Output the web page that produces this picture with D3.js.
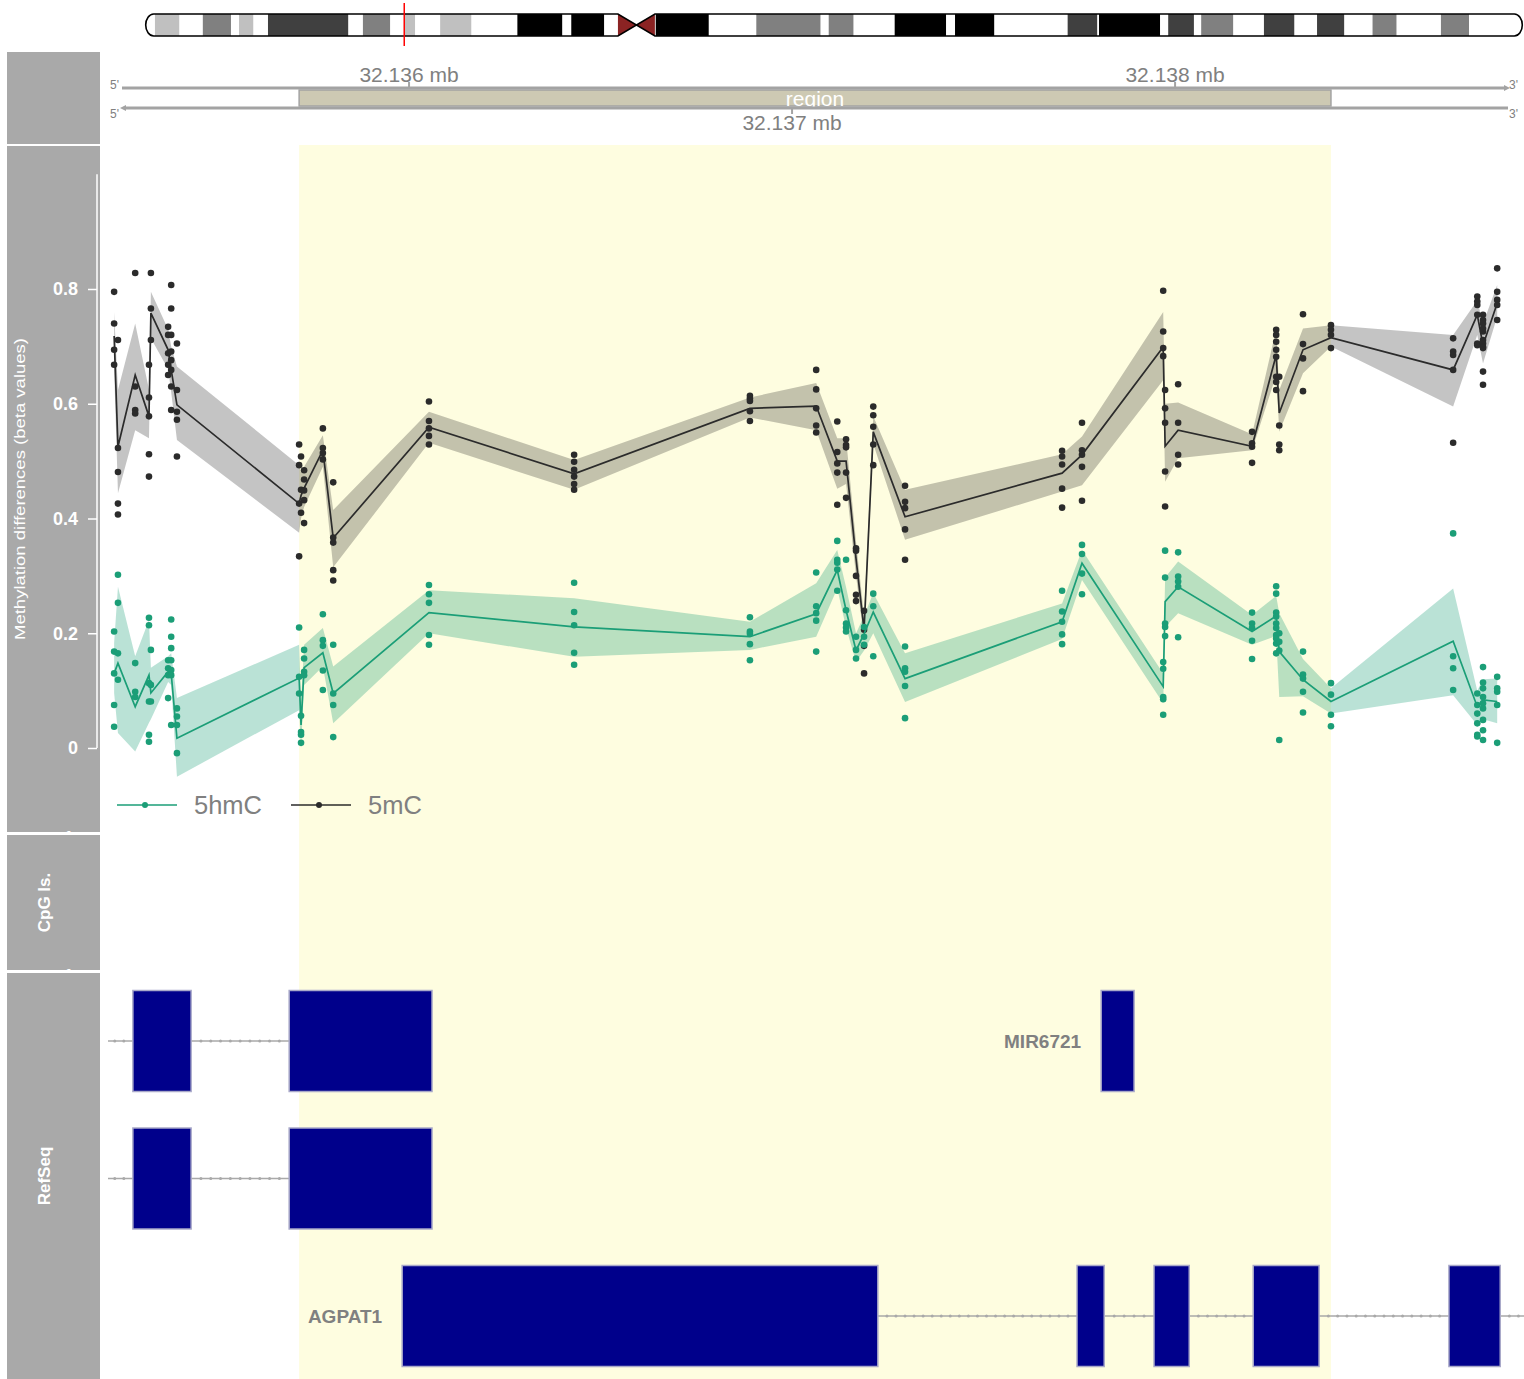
<!DOCTYPE html>
<html>
<head>
<meta charset="utf-8">
<script src="https://cdn.jsdelivr.net/npm/d3@7"></script>
<style>
  body { margin: 0; background: #fff; }
  svg { display: block; }
  text { font-family: "Liberation Sans", Arial, Helvetica, sans-serif; }
</style>
</head>
<body>
<svg id="chart" width="1524" height="1379"></svg>
<script>
// ---------------- data ----------------
// chromosome 6 cytobands (start, Mb) and stains
const chromLength = 171.115;
const bandStart = [0, 1.15, 4.2, 7.1, 10.6, 11.6, 13.4, 15.2, 25.2, 27, 30.4, 32.1, 33.5, 36.6, 40.5, 46.2,
  51.8, 52.9, 57, 58.7, 61, 63.3, 63.4, 70, 75.9, 83.9, 84.9, 88, 93.1, 99.5, 100.6, 105.5, 114.6, 118.3,
  118.5, 126.1, 127.1, 130.3, 131.2, 135.2, 139, 142.8, 145.6, 149, 152.5, 155.5, 161, 164.5];
const bandStain = ["gneg", "gpos25", "gneg", "gpos50", "gneg", "gpos25", "gneg", "gpos75", "gneg", "gpos50",
  "gneg", "gpos25", "gneg", "gpos25", "gneg", "gpos100", "gneg", "gpos100", "gneg", "acen", "acen", "gneg",
  "gpos100", "gneg", "gpos50", "gneg", "gpos50", "gneg", "gpos100", "gneg", "gpos100", "gneg", "gpos75",
  "gneg", "gpos100", "gneg", "gpos75", "gneg", "gpos50", "gneg", "gpos75", "gneg", "gpos75", "gneg",
  "gpos50", "gneg", "gpos50", "gneg"];
const currentPos = 32.137;   // Mb, marker on the ideogram

// genomic window and highlighted region (bp)
const viewStart = 32135214, viewEnd = 32138911;
const regionStart = 32135713, regionEnd = 32138407;
const axisTicks = [32136000, 32137000, 32138000];
const yTicks = [0, 0.2, 0.4, 0.6, 0.8];

// CpG positions
const cpgPos = [32135230, 32135240, 32135285, 32135321, 32135326, 32135371, 32135379, 32135394,
  32135713, 32135718, 32135726, 32135775, 32135802, 32136052, 32136431, 32136890, 32137063,
  32137118, 32137141, 32137167, 32137188, 32137212, 32137295, 32137705, 32137757, 32137969,
  32137974, 32138008, 32138201, 32138264, 32138272, 32138334, 32138407, 32138726, 32138789,
  32138804, 32138841];

// 5mC: group mean and confidence band
const mcMean = [0.718, 0.525, 0.650, 0.578, 0.758, 0.694, 0.659, 0.598, 0.426, 0.440, 0.453, 0.519,
  0.366, 0.559, 0.478, 0.592, 0.596, 0.500, 0.500, 0.330, 0.206, 0.551, 0.403, 0.479, 0.511, 0.699,
  0.526, 0.554, 0.526, 0.685, 0.584, 0.694, 0.715, 0.659, 0.755, 0.702, 0.775];
const mcLow = [0.660, 0.444, 0.554, 0.540, 0.714, 0.660, 0.620, 0.537, 0.375, 0.400, 0.420, 0.490,
  0.315, 0.532, 0.450, 0.576, 0.554, 0.452, 0.460, 0.300, 0.190, 0.530, 0.363, 0.447, 0.458, 0.641,
  0.464, 0.505, 0.519, 0.650, 0.551, 0.653, 0.700, 0.595, 0.720, 0.670, 0.752];
const mcHigh = [0.760, 0.624, 0.740, 0.625, 0.795, 0.730, 0.700, 0.665, 0.493, 0.480, 0.490, 0.545,
  0.415, 0.586, 0.502, 0.611, 0.636, 0.540, 0.540, 0.360, 0.230, 0.578, 0.450, 0.512, 0.543, 0.760,
  0.600, 0.602, 0.547, 0.730, 0.624, 0.731, 0.737, 0.720, 0.780, 0.740, 0.807];
// 5mC: per-sample values
const mcSamples = [
  [0.795, 0.740, 0.694, 0.668], [0.711, 0.523, 0.481, 0.426, 0.407], [0.828, 0.630, 0.589, 0.583],
  [0.668, 0.611, 0.578, 0.512, 0.473], [0.828, 0.766, 0.711], [0.734, 0.720, 0.688, 0.668, 0.650],
  [0.807, 0.766, 0.720, 0.691, 0.676, 0.659, 0.630, 0.589], [0.705, 0.624, 0.586, 0.572, 0.508],
  [0.529, 0.493, 0.426, 0.334], [0.508, 0.450, 0.410], [0.484, 0.468, 0.449, 0.432, 0.392],
  [0.557, 0.523, 0.514, 0.503], [0.463, 0.367, 0.358, 0.310, 0.292], [0.604, 0.570, 0.557, 0.544, 0.529],
  [0.511, 0.499, 0.485, 0.473, 0.460, 0.450], [0.614, 0.609, 0.605, 0.587, 0.570],
  [0.659, 0.625, 0.592, 0.562, 0.550], [0.569, 0.516, 0.496, 0.480, 0.424],
  [0.538, 0.528, 0.524, 0.480, 0.436], [0.348, 0.344, 0.300, 0.267, 0.256], [0.239, 0.206, 0.178, 0.130],
  [0.595, 0.580, 0.560, 0.529, 0.493], [0.457, 0.429, 0.418, 0.381, 0.328],
  [0.518, 0.508, 0.494, 0.452, 0.419], [0.567, 0.519, 0.511, 0.490, 0.431], [0.797, 0.726, 0.697, 0.683],
  [0.624, 0.592, 0.567, 0.482, 0.421], [0.634, 0.567, 0.511, 0.494], [0.551, 0.531, 0.525, 0.497],
  [0.729, 0.720, 0.708, 0.694, 0.682, 0.647, 0.638, 0.624], [0.647, 0.562, 0.529, 0.519],
  [0.756, 0.704, 0.679, 0.622], [0.737, 0.729, 0.720, 0.697], [0.714, 0.691, 0.685, 0.659, 0.532],
  [0.787, 0.778, 0.772, 0.755, 0.705, 0.702],
  [0.755, 0.746, 0.740, 0.731, 0.726, 0.711, 0.705, 0.699, 0.697, 0.656, 0.633],
  [0.836, 0.795, 0.781, 0.772, 0.746]];

// 5hmC: group mean and confidence band
const hmcMean = [0.130, 0.148, 0.072, 0.127, 0.096, 0.133, 0.130, 0.017, 0.122, 0.040, 0.140, 0.166,
  0.095, 0.236, 0.211, 0.194, 0.234, 0.310, 0.240, 0.170, 0.199, 0.237, 0.121, 0.220, 0.322, 0.107,
  0.255, 0.281, 0.203, 0.230, 0.168, 0.119, 0.081, 0.186, 0.072, 0.084, 0.081];
const hmcLow = [0.096, 0.026, -0.006, 0.044, 0.050, 0.115, 0.110, -0.050, 0.066, 0.000, 0.110, 0.142,
  0.043, 0.200, 0.159, 0.171, 0.194, 0.278, 0.210, 0.150, 0.170, 0.200, 0.080, 0.190, 0.293, 0.078,
  0.211, 0.235, 0.180, 0.195, 0.089, 0.090, 0.060, 0.092, 0.040, 0.050, 0.043];
const hmcHigh = [0.183, 0.281, 0.160, 0.223, 0.140, 0.160, 0.165, 0.087, 0.180, 0.080, 0.180, 0.209,
  0.142, 0.275, 0.261, 0.220, 0.287, 0.345, 0.280, 0.200, 0.230, 0.270, 0.165, 0.252, 0.345, 0.130,
  0.297, 0.325, 0.232, 0.265, 0.235, 0.155, 0.104, 0.278, 0.100, 0.120, 0.121];
// 5hmC: per-sample values
const hmcSamples = [
  [0.203, 0.168, 0.130, 0.075, 0.037], [0.302, 0.253, 0.165, 0.119], [0.148, 0.098, 0.089],
  [0.227, 0.214, 0.113, 0.081, 0.023, 0.011], [0.171, 0.110, 0.081], [0.153, 0.139, 0.127, 0.087],
  [0.224, 0.194, 0.174, 0.153, 0.136, 0.127, 0.040], [0.069, 0.055, 0.040, -0.009],
  [0.210, 0.124, 0.095], [0.056, 0.028, 0.023, 0.009], [0.171, 0.156, 0.133, 0.127],
  [0.233, 0.188, 0.178, 0.135, 0.101], [0.180, 0.095, 0.075, 0.019], [0.284, 0.268, 0.253, 0.197, 0.180],
  [0.288, 0.237, 0.214, 0.166, 0.145], [0.228, 0.203, 0.199, 0.181, 0.153],
  [0.306, 0.247, 0.235, 0.222, 0.168], [0.361, 0.328, 0.323, 0.311, 0.274],
  [0.328, 0.240, 0.217, 0.210, 0.203], [0.194, 0.171, 0.156], [0.211, 0.194, 0.180],
  [0.269, 0.247, 0.160], [0.177, 0.139, 0.133, 0.108, 0.052], [0.274, 0.238, 0.220, 0.198, 0.181],
  [0.354, 0.338, 0.304, 0.268], [0.150, 0.138, 0.089, 0.085, 0.058], [0.344, 0.297, 0.217, 0.211, 0.195],
  [0.341, 0.299, 0.290, 0.281, 0.193], [0.236, 0.217, 0.209, 0.187, 0.155],
  [0.282, 0.269, 0.236, 0.229, 0.217, 0.209, 0.197, 0.191, 0.182, 0.165], [0.200, 0.185, 0.170, 0.014],
  [0.168, 0.128, 0.121, 0.098, 0.062], [0.113, 0.093, 0.058, 0.038], [0.374, 0.160, 0.139, 0.101],
  [0.095, 0.075, 0.060, 0.043, 0.023, 0.020],
  [0.141, 0.114, 0.104, 0.089, 0.078, 0.069, 0.049, 0.031, 0.014], [0.124, 0.104, 0.098, 0.075, 0.009]];

// RefSeq transcripts: row, label, transcript span and exons
const txRow = [0, 1, 0, 2];
const txLabel = ["", "", "MIR6721", "AGPAT1"];
const txStart = [32134900, 32134900, 32137807, 32135982];
const txEnd = [32136060, 32136060, 32137893, 32139300];
const txExons = [
  [[32135279, 32135431], [32135687, 32136060]],
  [[32135279, 32135431], [32135687, 32136060]],
  [[32137807, 32137893]],
  [[32135982, 32137224], [32137744, 32137815], [32137945, 32138037], [32138204, 32138376], [32138715, 32138849]]];

const seriesNames = ["5hmC", "5mC"];

// ---------------- drawing ----------------
const svg = d3.select("#chart");
const W = 1524, H = 1379;
const C = {
  panel: "#a9a9a9", axis: "#a3a3a3", axisText: "#808080", highlight: "#fefde0",
  hmc: "#1b9e77", mc: "#2b2b2b", exon: "#00008b", exonStroke: "#a9a9c9", intron: "#a9a9a9"
};

const x = d3.scaleLinear().domain([viewStart, viewEnd]).range([108, W]);
const y = d3.scaleLinear().domain([0, 1]).range([748, 174.25]);

// title panels on the left
const panels = [
  { y0: 52, y1: 144, title: "" },
  { y0: 146, y1: 832, title: "Methylation differences (beta values)" },
  { y0: 835, y1: 970, title: "CpG Is." },
  { y0: 973, y1: H, title: "RefSeq" }];
svg.selectAll("rect.panel").data(panels).join("rect")
  .attr("class", "panel").attr("x", 7).attr("width", 93)
  .attr("y", d => d.y0).attr("height", d => d.y1 - d.y0).attr("fill", C.panel);

// highlighted region behind data tracks
svg.append("rect").attr("x", x(regionStart)).attr("width", x(regionEnd) - x(regionStart))
  .attr("y", 145).attr("height", H - 145).attr("fill", C.highlight);

// ---- ideogram
const ix = d3.scaleLinear().domain([0, chromLength]).range([145.7, 1522.3]);
const iTop = 14, iBot = 36, iMid = (iTop + iBot) / 2, rr = 8;
const acen = bandStain.map((s, i) => s === "acen" ? i : -1).filter(i => i >= 0);
const cenL = ix(bandStart[acen[0]]), cenM = ix(bandStart[acen[1]]), cenR = ix(bandStart[acen[1] + 1]);
const x0 = ix(0), x1 = ix(chromLength);
const pArm = `M${x0 + rr},${iTop} H${cenL} L${cenM},${iMid} L${cenL},${iBot} H${x0 + rr} A${rr},${(iBot - iTop) / 2} 0 0 1 ${x0 + rr},${iTop} Z`;
const qArm = `M${cenR},${iTop} H${x1 - rr} A${rr},${(iBot - iTop) / 2} 0 0 1 ${x1 - rr},${iBot} H${cenR} L${cenM},${iMid} Z`;
const defs = svg.append("defs");
const cp = defs.append("clipPath").attr("id", "chromClip");
cp.append("path").attr("d", pArm);
cp.append("path").attr("d", qArm);
const stainColor = { gneg: "#ffffff", gpos25: "#c0c0c0", gpos50: "#808080", gpos75: "#404040", gpos100: "#000000", acen: "#8b2323" };
const bands = bandStart.map((s, i) => ({ s, e: i + 1 < bandStart.length ? bandStart[i + 1] : chromLength, stain: bandStain[i] }));
svg.append("g").attr("clip-path", "url(#chromClip)")
  .selectAll("rect").data(bands).join("rect")
  .attr("x", d => ix(d.s)).attr("width", d => ix(d.e) - ix(d.s))
  .attr("y", iTop).attr("height", iBot - iTop).attr("fill", d => stainColor[d.stain]);
svg.append("path").attr("d", pArm).attr("fill", "none").attr("stroke", "#000").attr("stroke-width", 1.6);
svg.append("path").attr("d", qArm).attr("fill", "none").attr("stroke", "#000").attr("stroke-width", 1.6);
svg.append("line").attr("x1", ix(currentPos)).attr("x2", ix(currentPos)).attr("y1", 3).attr("y2", 46)
  .attr("stroke", "#ff0000").attr("stroke-width", 1.5);

// ---- genome axis
const gA = svg.append("g");
const topY = 88, botY = 108;
gA.append("rect").attr("x", x(regionStart)).attr("width", x(regionEnd) - x(regionStart))
  .attr("y", topY + 2).attr("height", botY - topY - 4).attr("fill", "#cdc9b3").attr("stroke", "#a3a3a3").attr("stroke-width", 1.5);
gA.append("text").attr("x", (x(regionStart) + x(regionEnd)) / 2).attr("y", 106)
  .attr("text-anchor", "middle").attr("font-size", 21).attr("fill", "#fff").text("region");
gA.append("line").attr("x1", 122).attr("x2", 1506).attr("y1", topY).attr("y2", topY).attr("stroke", C.axis).attr("stroke-width", 3);
gA.append("path").attr("d", `M1504,${topY - 3} L1510,${topY} L1504,${topY + 3} Z`).attr("fill", C.axis);
gA.append("line").attr("x1", 124).attr("x2", 1508).attr("y1", botY).attr("y2", botY).attr("stroke", C.axis).attr("stroke-width", 3);
gA.append("path").attr("d", `M126,${botY - 3} L120,${botY} L126,${botY + 3} Z`).attr("fill", C.axis);
[["5'", 110, 89], ["3'", 1509, 89], ["5'", 110, 118], ["3'", 1509, 118]].forEach(([t, tx, ty]) =>
  gA.append("text").attr("x", tx).attr("y", ty).attr("font-size", 12).attr("fill", C.axisText).text(t));
axisTicks.forEach((t, i) => {
  const up = i % 2 === 0;
  const tx = x(t);
  gA.append("line").attr("x1", tx).attr("x2", tx).attr("y1", up ? topY : botY).attr("y2", up ? topY - 6 : botY + 6)
    .attr("stroke", C.axis).attr("stroke-width", 2);
  gA.append("text").attr("x", tx).attr("y", up ? 82 : 130).attr("text-anchor", "middle")
    .attr("font-size", 21).attr("fill", C.axisText).text((t / 1e6).toFixed(3) + " mb");
});

// ---- panel titles
svg.append("text").attr("transform", `translate(25,${(146 + 832) / 2}) rotate(-90)`)
  .attr("text-anchor", "middle").attr("font-size", 15).attr("fill", "#fff")
  .attr("textLength", 302).attr("lengthAdjust", "spacingAndGlyphs")
  .text(panels[1].title);
svg.append("text").attr("transform", `translate(50,${(835 + 970) / 2}) rotate(-90)`)
  .attr("text-anchor", "middle").attr("font-size", 17).attr("font-weight", "bold").attr("fill", "#fff").text(panels[2].title);
svg.append("text").attr("transform", `translate(50,${(973 + H) / 2}) rotate(-90)`)
  .attr("text-anchor", "middle").attr("font-size", 17).attr("font-weight", "bold").attr("fill", "#fff").text(panels[3].title);

// clipped tick stubs peeking above the panel separators
[[146, 832], [835, 970]].forEach(([p0, p1], k) => {
  const id = "stubClip" + k;
  defs.append("clipPath").attr("id", id).append("rect").attr("x", 7).attr("y", p0).attr("width", 93).attr("height", p1 - p0);
  svg.append("text").attr("clip-path", `url(#${id})`).attr("x", 64).attr("y", p1 + 11)
    .attr("font-size", 17).attr("font-weight", "bold").attr("fill", "#fff").text("1");
});

// y axis of the methylation track
const gY = svg.append("g").attr("transform", "translate(97,0)")
  .call(d3.axisLeft(y).tickValues(yTicks).tickSize(9).tickPadding(10).tickFormat(d => d === 0 ? "0" : d3.format(".1f")(d)));
gY.select(".domain").attr("stroke", "#fff").attr("stroke-width", 1.5).attr("d", `M0,${y(0)}V${y(1)}`);
gY.selectAll(".tick line").attr("stroke", "#fff").attr("stroke-width", 1.5);
gY.selectAll(".tick text").attr("fill", "#fff").attr("font-size", 18).attr("font-weight", "bold")
  .attr("font-family", "'Liberation Sans', Arial, sans-serif");

// ---- methylation track
defs.append("clipPath").attr("id", "dataClip").append("rect").attr("x", 108).attr("y", 146).attr("width", W - 108).attr("height", 686);
const gD = svg.append("g").attr("clip-path", "url(#dataClip)");
const idx = d3.range(cpgPos.length);
const series = [
  { name: seriesNames[0], color: C.hmc, mean: hmcMean, lo: hmcLow, hi: hmcHigh, pts: hmcSamples, fill: C.hmc, fillOp: 0.3 },
  { name: seriesNames[1], color: C.mc, mean: mcMean, lo: mcLow, hi: mcHigh, pts: mcSamples, fill: "#000", fillOp: 0.23 }];
series.slice().reverse().forEach(s => {
  gD.append("path").datum(idx)
    .attr("d", d3.area().x(i => x(cpgPos[i])).y0(i => y(s.lo[i])).y1(i => y(s.hi[i])))
    .attr("fill", s.fill).attr("fill-opacity", s.fillOp);
});
series.slice().reverse().forEach(s => {
  gD.append("path").datum(idx)
    .attr("d", d3.line().x(i => x(cpgPos[i])).y(i => y(s.mean[i])))
    .attr("fill", "none").attr("stroke", s.color).attr("stroke-width", 1.7);
  const pts = idx.flatMap(i => s.pts[i].map(v => [cpgPos[i], v]));
  gD.append("g").selectAll("circle").data(pts).join("circle")
    .attr("cx", d => x(d[0])).attr("cy", d => y(d[1])).attr("r", 3.3).attr("fill", s.color);
});

// legend
const gL = svg.append("g");
series.forEach((s, k) => {
  const lx = 117 + k * 174;
  gL.append("line").attr("x1", lx).attr("x2", lx + 60).attr("y1", 805).attr("y2", 805).attr("stroke", s.color).attr("stroke-width", 1.7);
  gL.append("circle").attr("cx", lx + 28).attr("cy", 805).attr("r", 3).attr("fill", s.color);
  gL.append("text").attr("x", lx + 77).attr("y", 814).attr("font-size", 25.5).attr("fill", C.axisText).text(s.name);
});

// ---- RefSeq gene track
defs.append("clipPath").attr("id", "geneClip").append("rect").attr("x", 108).attr("y", 973).attr("width", W - 108).attr("height", H - 973);
const gG = svg.append("g").attr("clip-path", "url(#geneClip)");
const rowY = r => 1041 + r * 137.5;
const exonH = 101;
txRow.forEach((r, t) => {
  const cy = rowY(r);
  const ex = txExons[t];
  // intron segments between exons and beyond the transcript ends
  const segs = [];
  let prev = txStart[t];
  ex.forEach(e => { if (e[0] > prev) segs.push([prev, e[0]]); prev = e[1]; });
  if (txEnd[t] > prev) segs.push([prev, txEnd[t]]);
  segs.forEach(sg => {
    gG.append("line").attr("x1", x(sg[0])).attr("x2", x(sg[1])).attr("y1", cy).attr("y2", cy)
      .attr("stroke", C.intron).attr("stroke-width", 1.3);
    const n = Math.floor((x(sg[1]) - x(sg[0])) / 9);
    for (let k = 1; k < n; k++) {
      gG.append("circle").attr("cx", x(sg[0]) + k * (x(sg[1]) - x(sg[0])) / n).attr("cy", cy).attr("r", 1.5).attr("fill", C.intron);
    }
  });
  ex.forEach(e => {
    gG.append("rect").attr("x", x(e[0])).attr("width", x(e[1]) - x(e[0]))
      .attr("y", cy - exonH / 2).attr("height", exonH)
      .attr("fill", C.exon).attr("stroke", C.exonStroke).attr("stroke-width", 1.5);
  });
  if (txLabel[t]) {
    gG.append("text").attr("x", x(ex[0][0]) - 20).attr("y", cy + 7).attr("text-anchor", "end")
      .attr("font-size", 19).attr("font-weight", "bold").attr("fill", C.axisText).text(txLabel[t]);
  }
});
</script>
</body>
</html>
